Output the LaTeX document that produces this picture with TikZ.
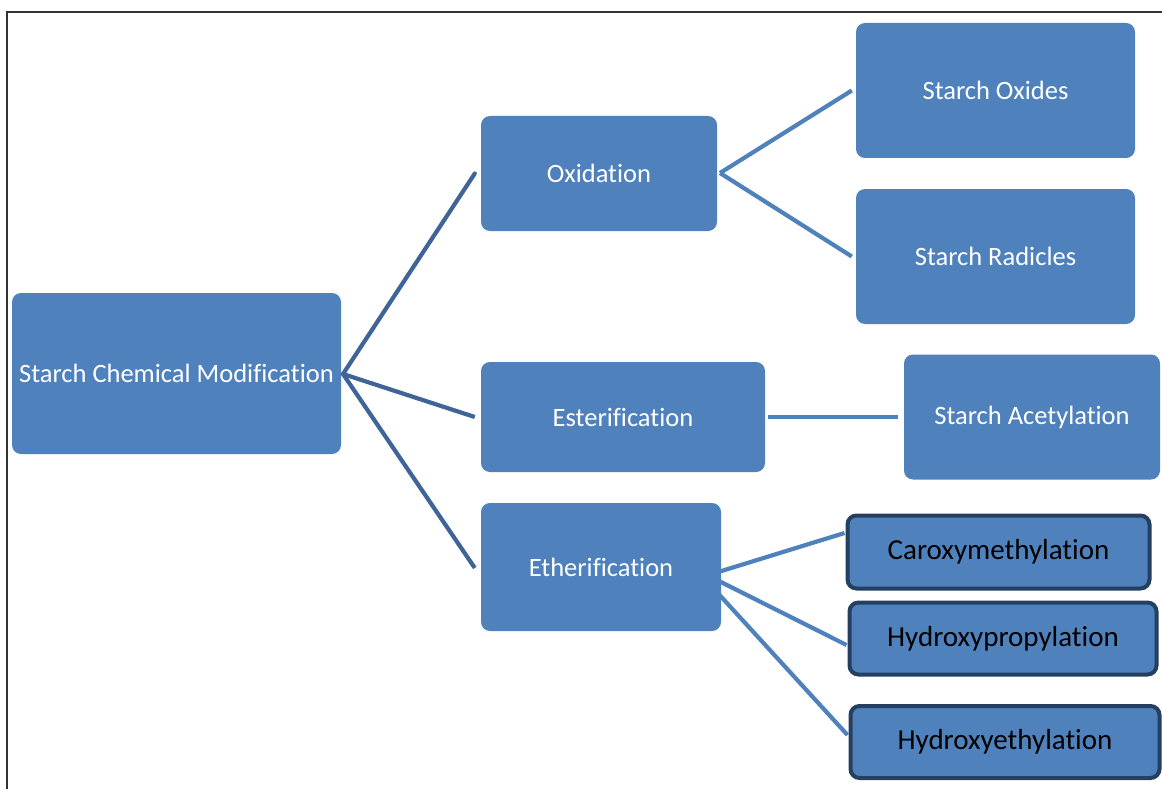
\documentclass[tikz,border=0pt]{standalone}
\usepackage{fontspec}
\setmainfont{Carlito}[RawFeature={-liga;-clig;-calt;-dlig}]
\definecolor{boxblue}{HTML}{4F81BD}
\definecolor{darkline}{HTML}{3F6598}
\definecolor{edgeblue}{HTML}{243F60}
\definecolor{frameclr}{HTML}{333333}
\begin{document}
\begin{tikzpicture}[x=1pt,y=-1pt,
  bluebox/.style={rectangle, rounded corners=9pt, fill=boxblue, draw=none,
    text=white, font=\fontsize{26.5}{30}\selectfont, inner sep=0pt, anchor=center},
  edgebox/.style={rectangle, rounded corners=9pt, fill=boxblue, draw=edgeblue,
    line width=4pt, text=black, font=\fontsize{29}{33}\selectfont, inner sep=0pt, anchor=center},
  rootlink/.style={draw=darkline, line width=4.2pt},
  leaflink/.style={draw=boxblue, line width=4.2pt}]
\useasboundingbox (0,0) rectangle (1162,789);
\draw[frameclr, line width=1.5pt] (7,789) -- (7,12) -- (1162,12);

\node[bluebox, minimum width=329pt, minimum height=161pt] (root) at (176.5,373.5) {Starch Chemical Modification};
\node[bluebox, minimum width=236pt, minimum height=115pt] (oxi) at (599,173.5) {Oxidation};
\node[bluebox, minimum width=284pt, minimum height=110pt] (est) at (623,417) {Esterification};
\node[bluebox, minimum width=240pt, minimum height=128pt] (eth) at (601,567) {Etherification};
\node[bluebox, minimum width=279pt, minimum height=135pt] (sox) at (995.5,90.5) {Starch Oxides};
\node[bluebox, minimum width=279pt, minimum height=135pt] (srad) at (995.5,256.5) {Starch Radicles};
\node[bluebox, minimum width=256pt, minimum height=125pt] (sac) at (1032,417) {Starch Acetylation};
\node[edgebox, minimum width=302pt, minimum height=73pt] (cmx) at (998.5,552) {Caroxymethylation};
\node[edgebox, minimum width=307pt, minimum height=72pt] (hpp) at (1003,638.5) {Hydroxypropylation};
\node[edgebox, minimum width=309pt, minimum height=72pt] (hep) at (1005,742) {Hydroxyethylation};

\coordinate (hub) at (343,374);
\draw[rootlink, line cap=round] (hub) -- ([xshift=-6pt]oxi.west);
\draw[rootlink] (hub) -- ([xshift=-6pt]est.west);
\draw[rootlink] (hub) -- ([xshift=-6pt,yshift=-1pt]eth.west);

\coordinate (oxhub) at (720,173);
\draw[leaflink] (oxhub) -- ([xshift=-4pt]sox.west);
\draw[leaflink] (oxhub) -- ([xshift=-4pt]srad.west);

\draw[leaflink] ([xshift=3pt]est.east) -- ([xshift=-6pt]sac.west);

\coordinate (e1) at (715,573);
\coordinate (e2) at (703,573);
\coordinate (e3) at (715,590);
\draw[leaflink] (e1) -- ([xshift=-1pt,yshift=19pt]cmx.west);
\draw[leaflink] (e2) -- ([xshift=-1pt,yshift=-6.5pt]hpp.west);
\draw[leaflink] (e3) -- ([xshift=-1pt,yshift=7pt]hep.west);
\end{tikzpicture}
\end{document}
